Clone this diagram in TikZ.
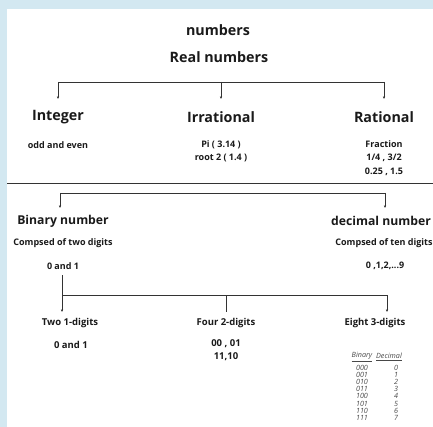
\documentclass[tikz,border=0pt]{standalone}
\usepackage{fontspec}
\setmainfont{Open Sans}
\usetikzlibrary{arrows.meta}
\definecolor{bgblue}{HTML}{D3E8F1}
\definecolor{ink}{HTML}{1A1A1A}
\definecolor{linec}{HTML}{333333}
\begin{document}
\begin{tikzpicture}[x=1pt,y=-1pt,
  big/.style={font=\fontsize{14.3}{16}\selectfont\bfseries, text=ink, inner sep=0pt},
  mid/.style={font=\fontsize{12.2}{14}\selectfont\bfseries, text=ink, inner sep=0pt},
  small/.style={font=\fontsize{9}{13.5}\selectfont\bfseries, text=ink, inner sep=0pt, align=center},
  lvl/.style={font=\fontsize{9.5}{13}\selectfont\bfseries, text=ink, inner sep=0pt, align=center},
  tiny/.style={font=\fontsize{7.2}{7.2}\selectfont\itshape, text=ink!80, inner sep=0pt},
  conn/.style={draw=linec, line width=0.8pt},
  arr/.style={conn, -{Latex[length=2.4pt,width=2.4pt]}}]
\useasboundingbox (0,0) rectangle (433,427);
\fill[bgblue] (0,0) rectangle (433,427);
\fill[white] (7,9) rectangle (433,427);

% level 0
\node[big] (num) at (218,30) {numbers};
\node[big] (real) at (219,57) {Real numbers};
\coordinate (b1l) at (58,82);
\coordinate (b1m) at (221,82);
\coordinate (b1r) at (384,82);
\node[big] (int) at (58,117) {Integer};
\node[big] (irr) at (221,117) {Irrational};
\node[big] (rat) at (384,117) {Rational};
\draw[conn] (b1l) -- (b1r);
\draw[arr] (b1l) -- (58,99);
\draw[arr] (b1m) -- (221,99);
\draw[arr] (b1r) -- (384,99);

\node[small] (odd) at (58,145) {odd and even};
\node[small, anchor=north] (pi) at (221,140) {Pi ( 3.14 )\\root 2 ( 1.4 )};
\node[small, anchor=north] (frac) at (384,140) {Fraction\\1/4 , 3/2\\0.25 , 1.5};

% separator
\draw[conn] (7,183) -- (433,183);

% level 2
\coordinate (b2l) at (60,193);
\coordinate (b2r) at (385,193);
\draw[conn] (b2l) -- (b2r);
\draw[arr] (b2l) -- (60,208);
\draw[arr] (b2r) -- (385,208);
\node[mid] (bin) at (63,221) {Binary number};
\node[mid] (dec) at (381,221) {decimal number};
\node[small] (binc) at (63,243) {Compsed of two digits};
\node[small] (decc) at (384,243) {Compsed of ten digits};
\node[small] (bind) at (63,266) {0 and 1};
\node[small] (decd) at (385,266) {0 ,1,2,...9};

% level 3
\coordinate (b3t) at (62,275);
\coordinate (b3l) at (62,295);
\coordinate (b3m) at (226,295);
\coordinate (b3r) at (387,295);
\draw[conn] (b3t) -- (b3l);
\draw[conn] (b3l) -- (b3r);
\draw[arr] (b3l) -- (62,312);
\draw[conn] (b3m) -- (226,312);
\draw[arr] (b3r) -- (387,312);
\node[lvl] (two) at (70,323) {Two 1-digits};
\node[lvl] (four) at (226,323) {Four 2-digits};
\node[lvl] (eight) at (375,323) {Eight 3-digits};
\node[lvl] (twod) at (71,345) {0 and 1};
\node[lvl, anchor=north] (fourd) at (226,339) {00 , 01\\11,10};

% table
\node[tiny] (hb) at (362,357) {\underline{Binary}};
\node[tiny] (hd) at (389,357) {\underline{Decimal}};
\foreach \b/\d [count=\i from 0] in {000/0,001/1,010/2,011/3,100/4,101/5,110/6,111/7}{
  \node[tiny] (tb\i) at (362,367.5+7.2*\i) {\b};
  \node[tiny] (td\i) at (396,367.5+7.2*\i) {\d};
}
\end{tikzpicture}
\end{document}
